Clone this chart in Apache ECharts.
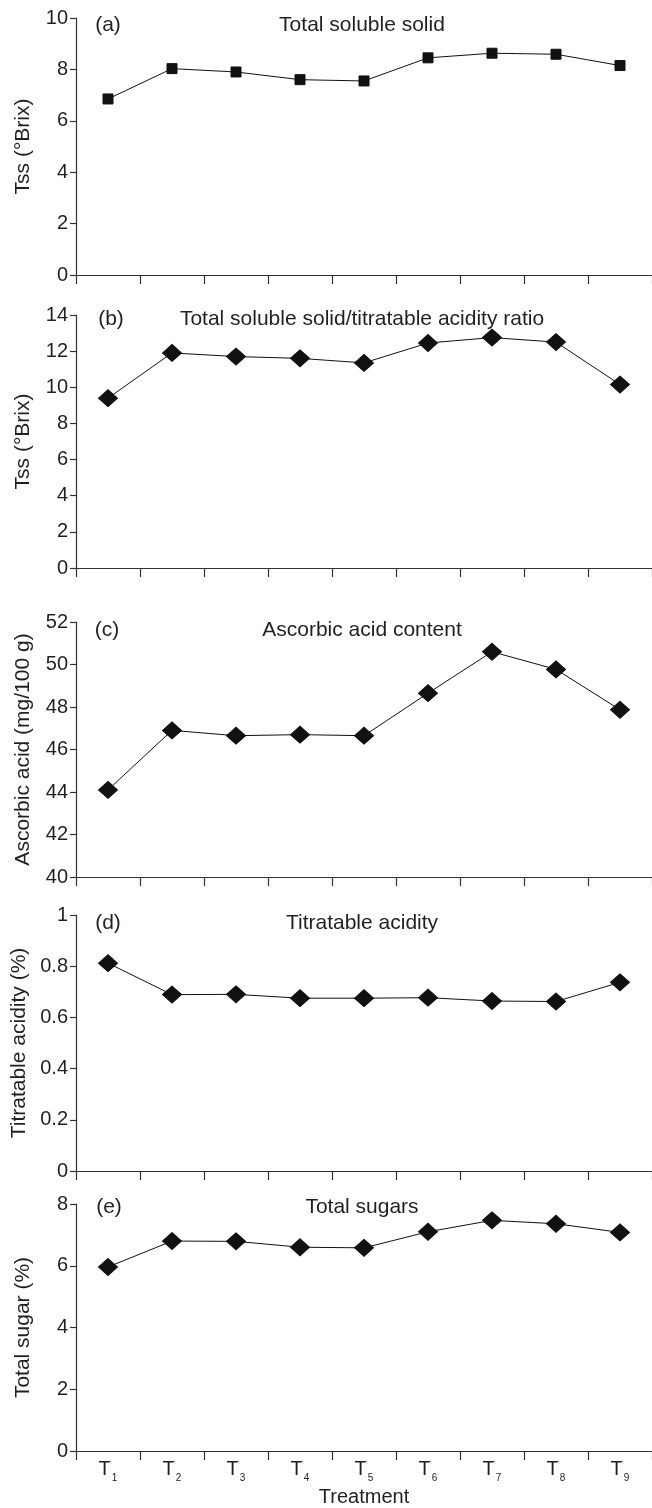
<!DOCTYPE html>
<html>
<head>
<meta charset="utf-8">
<script src="https://cdn.jsdelivr.net/npm/echarts@6/dist/echarts.min.js"></script>
<style>
html,body{margin:0;padding:0;background:#fff;}
#chart{width:652px;height:1508px;}
</style>
</head>
<body>
<div id="chart"></div>
<script>
// ---- data ----
var treatments = ['1','2','3','4','5','6','7','8','9'];
var xAxisTitle = 'Treatment';

var panelLetters = ['(a)','(b)','(c)','(d)','(e)'];
var panelTitles = ['Total soluble solid','Total soluble solid/titratable acidity ratio','Ascorbic acid content','Titratable acidity','Total sugars'];
var yAxisTitles = ['Tss (°Brix)','Tss (°Brix)','Ascorbic acid (mg/100 g)','Titratable acidity (%)','Total sugar (%)'];

var tssValues      = [6.85, 8.03, 7.90, 7.60, 7.55, 8.45, 8.63, 8.59, 8.15];
var ratioValues    = [9.40, 11.90, 11.70, 11.60, 11.35, 12.45, 12.75, 12.50, 10.15];
var ascorbicValues = [44.10, 46.90, 46.65, 46.70, 46.65, 48.65, 50.60, 49.77, 47.87];
var acidityValues  = [0.812, 0.689, 0.690, 0.675, 0.675, 0.677, 0.664, 0.662, 0.737];
var sugarValues    = [5.96, 6.80, 6.79, 6.60, 6.58, 7.10, 7.47, 7.36, 7.08];

// y-axis scales: [min, max, interval]
var tssScale      = [0, 10, 2];
var ratioScale    = [0, 14, 2];
var ascorbicScale = [40, 52, 2];
var acidityScale  = [0, 1, 0.2];
var sugarScale    = [0, 8, 2];

// ---- layout ----
var seriesList = [tssValues, ratioValues, ascorbicValues, acidityValues, sugarValues];
var scales = [tssScale, ratioScale, ascorbicScale, acidityScale, sugarScale];
var symbols = ['rect','diamond','diamond','diamond','diamond'];
var symbolSizes = [10,[19,17],[19,17],[19,17],[19,17]];
var gridTops = [18, 315, 622, 915, 1204];
var gridBottoms = [275, 568, 877, 1171, 1459];
var letterPos = [[108,25],[111,319],[107,630],[108,923],[109,1207]];
var titleY = [25, 319, 630, 923, 1207];

var FONT = '"Liberation Sans", Arial, Helvetica, sans-serif';
var INK = '#231f20';
var AX = '#333';

var grids = [], xAxes = [], yAxes = [], series = [], graphics = [];
for (var i = 0; i < 5; i++) {
  grids.push({left: 76, right: 0, top: gridTops[i], height: gridBottoms[i] - gridTops[i], containLabel: false});
  var last = (i === 4);
  xAxes.push({
    type: 'category', gridIndex: i, data: treatments, boundaryGap: true,
    axisLine: {show: true, lineStyle: {color: AX, width: 1.2}},
    axisTick: {show: true, length: 9, alignWithLabel: false, lineStyle: {color: AX, width: 1.2}},
    axisLabel: last ? {
      show: true, margin: 8, interval: 0,
      formatter: function (v) { return '{t|T}{s|' + v + '}'; },
      color: INK, fontFamily: FONT, fontSize: 20,
      rich: {
        t: {fontSize: 20, fontFamily: FONT, color: INK, verticalAlign: 'bottom', padding: [0, 1, 4, 0]},
        s: {fontSize: 10, fontFamily: FONT, color: INK, verticalAlign: 'bottom'}
      }
    } : {show: false},
    name: last ? xAxisTitle : '', nameLocation: 'middle', nameGap: 36,
    nameTextStyle: {color: INK, fontFamily: FONT, fontSize: 20},
    splitLine: {show: false}
  });
  yAxes.push({
    type: 'value', gridIndex: i, min: scales[i][0], max: scales[i][1], interval: scales[i][2],
    axisLine: {show: true, lineStyle: {color: AX, width: 1.2}},
    axisTick: {show: true, length: 6, lineStyle: {color: AX, width: 1.2}},
    axisLabel: {color: INK, fontFamily: FONT, fontSize: 20, margin: 8},
    splitLine: {show: false},
    name: yAxisTitles[i], nameLocation: 'middle', nameGap: 42, nameRotate: 90,
    nameTextStyle: {color: INK, fontFamily: FONT, fontSize: 21}
  });
  series.push({
    type: 'line', xAxisIndex: i, yAxisIndex: i, data: seriesList[i],
    symbol: symbols[i], symbolSize: symbolSizes[i],
    lineStyle: {color: '#111', width: 1},
    itemStyle: {color: '#111', borderColor: '#111'},
    animation: false
  });
  graphics.push({type: 'text', x: letterPos[i][0], y: letterPos[i][1],
    style: {text: panelLetters[i], textAlign: 'center', textVerticalAlign: 'middle', font: '21px ' + FONT, fill: INK}});
  graphics.push({type: 'text', x: 362, y: titleY[i],
    style: {text: panelTitles[i], textAlign: 'center', textVerticalAlign: 'middle', font: '21px ' + FONT, fill: INK}});
}

var chart = echarts.init(document.getElementById('chart'), null, {renderer: 'canvas'});
chart.setOption({
  animation: false,
  backgroundColor: '#fff',
  grid: grids, xAxis: xAxes, yAxis: yAxes, series: series, graphic: graphics
});
</script>
</body>
</html>
